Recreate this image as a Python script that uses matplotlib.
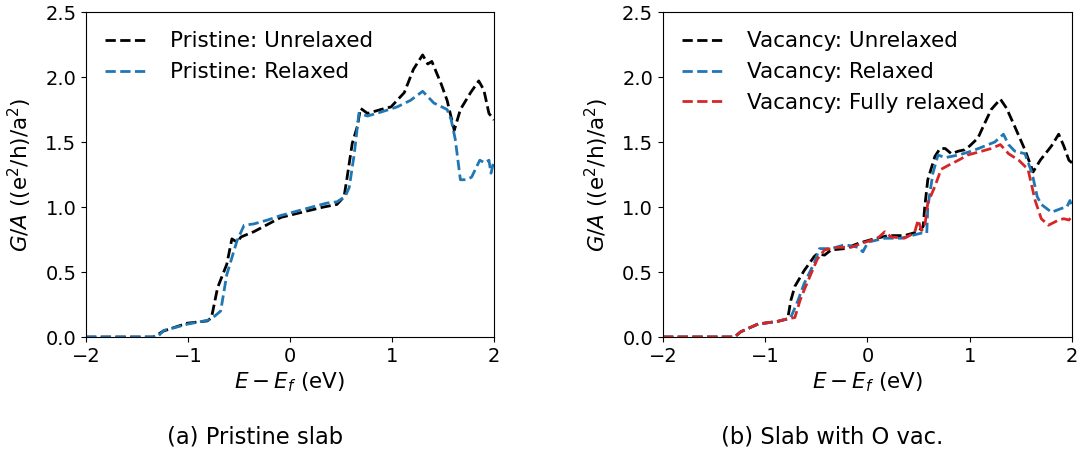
import numpy as np
import matplotlib
matplotlib.use("Agg")
import matplotlib.pyplot as plt

# ---------------------------------------------------------------------------
# Data
# ---------------------------------------------------------------------------
# (a) Pristine slab
pri_unrel_E = [-2.0, -1.34, -1.24, -1.01, -0.81, -0.77, -0.71, -0.62, -0.57, -0.52, -0.48,
               -0.355, -0.09, 0.17, 0.33, 0.46, 0.53, 0.56, 0.61, 0.66, 0.69, 0.76, 0.89,
               0.99, 1.12, 1.21, 1.30, 1.35, 1.39, 1.48, 1.54, 1.61, 1.67, 1.77, 1.85,
               1.90, 1.95, 2.0]
pri_unrel_G = [0.0, 0.0, 0.046, 0.106, 0.124, 0.15, 0.38, 0.56, 0.755, 0.73, 0.77,
               0.81, 0.92, 0.97, 1.0, 1.02, 1.08, 1.23, 1.49, 1.62, 1.76, 1.72, 1.75,
               1.77, 1.88, 2.06, 2.17, 2.10, 2.12, 1.95, 1.82, 1.59, 1.75, 1.88, 1.97,
               1.90, 1.72, 1.67]

pri_rel_E = [-2.0, -1.30, -1.24, -1.0, -0.8, -0.74, -0.68, -0.62, -0.52, -0.45, -0.355,
             -0.22, -0.09, 0.17, 0.36, 0.46, 0.54, 0.58, 0.63, 0.675, 0.76, 0.89, 1.05,
             1.18, 1.30, 1.41, 1.54, 1.58, 1.62, 1.67, 1.73, 1.78, 1.86, 1.91, 1.95,
             1.97, 2.0]
pri_rel_G = [0.0, 0.0, 0.05, 0.10, 0.13, 0.16, 0.20, 0.48, 0.74, 0.86, 0.87,
             0.90, 0.935, 0.99, 1.03, 1.04, 1.08, 1.15, 1.41, 1.72, 1.70, 1.73, 1.77,
             1.82, 1.89, 1.80, 1.75, 1.67, 1.52, 1.21, 1.21, 1.23, 1.36, 1.34, 1.36,
             1.26, 1.36]

# (b) Slab with O vacancy
vac_unrel_E = [-2.0, -1.30, -1.24, -1.07, -0.88, -0.78, -0.75, -0.71, -0.62, -0.52, -0.49,
               -0.42, -0.355, -0.22, -0.09, 0.04, 0.20, 0.36, 0.495, 0.545, 0.56, 0.59,
               0.66, 0.71, 0.76, 0.82, 0.89, 0.95, 1.0, 1.08, 1.15, 1.21, 1.30, 1.36,
               1.44, 1.54, 1.62, 1.69, 1.80, 1.87, 1.92, 1.97, 2.0]
vac_unrel_G = [0.0, 0.0, 0.04, 0.10, 0.12, 0.14, 0.28, 0.39, 0.51, 0.62, 0.64,
               0.63, 0.67, 0.68, 0.72, 0.75, 0.78, 0.78, 0.81, 0.85, 1.0, 1.21,
               1.39, 1.45, 1.45, 1.41, 1.43, 1.44, 1.47, 1.53, 1.65, 1.75, 1.83, 1.76,
               1.62, 1.44, 1.27, 1.36, 1.47, 1.56, 1.47, 1.36, 1.34]

vac_rel_E = [-2.0, -1.30, -1.24, -1.07, -0.88, -0.78, -0.75, -0.68, -0.62, -0.52, -0.47,
             -0.355, -0.22, -0.09, -0.045, 0.005, 0.17, 0.33, 0.43, 0.53, 0.58, 0.59,
             0.64, 0.69, 0.76, 0.89, 1.02, 1.15, 1.245, 1.33, 1.38, 1.44, 1.54, 1.61,
             1.66, 1.70, 1.80, 1.90, 1.95, 1.98, 2.0]
vac_rel_G = [0.0, 0.0, 0.04, 0.10, 0.12, 0.14, 0.15, 0.28, 0.41, 0.57, 0.68,
             0.68, 0.71, 0.69, 0.655, 0.73, 0.76, 0.76, 0.78, 0.80, 0.80, 1.0,
             1.26, 1.40, 1.38, 1.40, 1.43, 1.47, 1.50, 1.56, 1.48, 1.43, 1.41, 1.26,
             1.08, 1.02, 0.96, 0.99, 1.0, 1.05, 1.0]

vac_full_E = [-2.0, -1.30, -1.24, -1.07, -0.88, -0.78, -0.71, -0.66, -0.62, -0.55, -0.49,
              -0.42, -0.29, -0.16, -0.06, 0.10, 0.17, 0.23, 0.36, 0.46, 0.495, 0.53,
              0.56, 0.59, 0.66, 0.72, 0.79, 0.89, 0.98, 1.12, 1.21, 1.30, 1.38, 1.48,
              1.57, 1.64, 1.70, 1.77, 1.87, 1.92, 1.97, 2.0]
vac_full_G = [0.0, 0.0, 0.04, 0.10, 0.12, 0.14, 0.15, 0.28, 0.36, 0.49, 0.60,
              0.67, 0.69, 0.69, 0.72, 0.76, 0.81, 0.77, 0.76, 0.80, 0.90, 0.82,
              0.85, 1.03, 1.16, 1.29, 1.32, 1.36, 1.40, 1.43, 1.45, 1.48, 1.41, 1.36,
              1.29, 1.05, 0.91, 0.86, 0.90, 0.91, 0.90, 0.93]

TICK_FS = 14
LABEL_FS = 15.5
CAP_FS = 16.3
plt.rcParams['font.family'] = ['DejaVu Sans']
plt.rcParams['font.size'] = TICK_FS

fig = plt.figure(figsize=(10.78, 4.55), dpi=100)
ax1 = fig.add_axes([0.0798, 0.2593, 0.3785, 0.7143])
ax2 = fig.add_axes([0.6150, 0.2593, 0.3794, 0.7143])

ax1.plot(pri_unrel_E, pri_unrel_G, '--', color='black', lw=2, label='Pristine: Unrelaxed')
ax1.plot(pri_rel_E, pri_rel_G, '--', color='tab:blue', lw=2, label='Pristine: Relaxed')

ax2.plot(vac_unrel_E, vac_unrel_G, '--', color='black', lw=2, label='Vacancy: Unrelaxed')
ax2.plot(vac_rel_E, vac_rel_G, '--', color='tab:blue', lw=2, label='Vacancy: Relaxed')
ax2.plot(vac_full_E, vac_full_G, '--', color='tab:red', lw=2, label='Vacancy: Fully relaxed')

for ax in (ax1, ax2):
    ax.set_xlim(-2, 2)
    ax.set_ylim(0, 2.5)
    ax.set_xticks([-2, -1, 0, 1, 2])
    ax.set_yticks([0.0, 0.5, 1.0, 1.5, 2.0, 2.5])
    ax.tick_params(labelsize=TICK_FS)
    ax.set_xlabel(r'$E - E_f$ (eV)', fontsize=LABEL_FS, labelpad=3)
    ax.set_ylabel(r'$G/A$ ((e$^2$/h)/a$^2$)', fontsize=LABEL_FS, labelpad=8)
    ax.legend(loc='upper left', frameon=False, fontsize=LABEL_FS, handletextpad=1.0)

fig.text(0.2365, 0.04, '(a) Pristine slab', ha='center', va='center', fontsize=CAP_FS)
fig.text(0.772, 0.04, '(b) Slab with O vac.', ha='center', va='center', fontsize=CAP_FS)

fig.savefig('out.png', dpi=100)
